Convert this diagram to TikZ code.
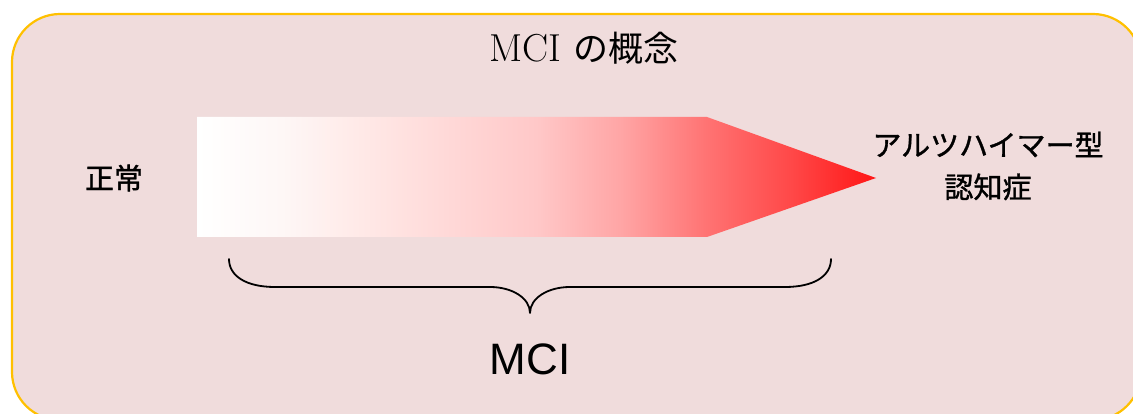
\documentclass[tikz,border=0pt]{standalone}
\usepackage{fontspec}
\setsansfont{Liberation Sans}
\newfontfamily\jpfont{Noto Sans CJK JP}[RawFeature={embolden=1.2}]
\newfontfamily\jptitle{Noto Sans CJK JP}
\definecolor{panelfill}{RGB}{240,220,220}
\definecolor{panelline}{RGB}{255,192,0}
\definecolor{gA}{RGB}{254,247,246}
\definecolor{gB}{RGB}{255,232,230}
\definecolor{gC}{RGB}{255,200,200}
\definecolor{gD}{RGB}{255,165,165}
\definecolor{gE}{RGB}{255,115,115}
\definecolor{gF}{RGB}{255,72,72}
\definecolor{gG}{RGB}{255,22,22}
\pgfdeclarehorizontalshading{arrowshade}{100bp}{color(0bp)=(white); color(25bp)=(white); color(31.25bp)=(gA); color(37.5bp)=(gB); color(50bp)=(gC); color(56.25bp)=(gD); color(62.5bp)=(gE); color(68.75bp)=(gF); color(75bp)=(gG); color(100bp)=(gG)}
\tikzset{
  lbl/.style={inner sep=0pt, outer sep=0pt, text=black},
  jplbl/.style={lbl, font=\jpfont\fontsize{29}{42}\selectfont},
  brace/.style={draw=black, line width=1.8pt, line cap=round, line join=round}
}
\begin{document}
\begin{tikzpicture}[x=1pt,y=-1pt]
\useasboundingbox (0,0) rectangle (1133,414);
\clip (0,0) rectangle (1133,414);
% panel
\draw[panelline, fill=panelfill, line width=2.2pt, rounded corners=48pt] (12,14) rectangle (1141,420);
% title
\node[lbl, anchor=base] (title) at (584,62) {\fontsize{39}{40}\selectfont MCI {\jptitle\fontsize{35}{40}\selectfont の概念}};
% gradient arrow
\shade[shading=arrowshade] (197,117) -- (707,117) -- (876,178) -- (707,237) -- (197,237) -- cycle;
% labels
\node[jplbl] (normal) at (114,178) {正常};
\node[jplbl, align=center] (ad) at (988,166) {アルツハイマー型\\認知症};
% brace
\coordinate (bl) at (229,259);
\coordinate (bm) at (530,313);
\coordinate (br) at (831,259);
\draw[brace] (bl) .. controls (229,276) and (246,287) .. (275,287) -- (490,287)
  .. controls (512,287) and (530,298) .. (bm)
  .. controls (530,298) and (548,287) .. (570,287) -- (785,287)
  .. controls (814,287) and (831,276) .. (br);
\node[lbl] (mci) at (530,359) {\sffamily\fontsize{44}{48}\selectfont MCI};
\end{tikzpicture}
\end{document}
